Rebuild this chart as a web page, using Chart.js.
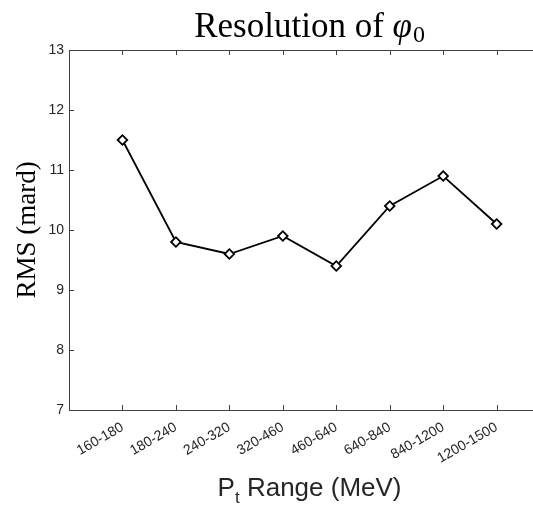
<!DOCTYPE html>
<html>
<head>
<meta charset="utf-8">
<script src="https://cdn.jsdelivr.net/npm/chart.js@4/dist/chart.umd.min.js"></script>
<style>
  html, body { margin: 0; padding: 0; background: #fff; overflow: hidden; }
</style>
</head>
<body>
<canvas id="rms-chart" width="533" height="507"></canvas>
<script>
const ptRanges = ["160-180", "180-240", "240-320", "320-460", "460-640", "640-840", "840-1200", "1200-1500"];
const rmsValues = [11.5, 9.8, 9.6, 9.9, 9.4, 10.4, 10.9, 10.1];
const yTicks = [7, 8, 9, 10, 11, 12, 13];

const axisColor = "#404040";
const textColor = "#262626";
// the original axes box runs on past the right edge of the picture (to x = 9)
const xMin = 0, xMaxVisible = 8.68, xMaxFull = 9;

const matlabAxes = {
  id: "matlabAxes",
  afterDraw(chart) {
    const { ctx, chartArea: a, scales } = chart;
    const x = scales.x, y = scales.y;
    ctx.save();
    ctx.strokeStyle = axisColor;
    ctx.lineWidth = 1;
    ctx.beginPath();
    ctx.moveTo(a.left + 0.5, a.top + 0.5);
    ctx.lineTo(a.right, a.top + 0.5);
    ctx.moveTo(a.left + 0.5, a.top);
    ctx.lineTo(a.left + 0.5, a.bottom + 0.5);
    ctx.lineTo(a.right, a.bottom + 0.5);
    ptRanges.forEach((_, i) => {
      const px = Math.round(x.getPixelForValue(i + 1)) + 0.5;
      ctx.moveTo(px, a.bottom);
      ctx.lineTo(px, a.bottom - 5);
      ctx.moveTo(px, a.top);
      ctx.lineTo(px, a.top + 5);
    });
    yTicks.forEach(v => {
      const py = Math.round(y.getPixelForValue(v)) + 0.5;
      ctx.moveTo(a.left, py);
      ctx.lineTo(a.left + 5, py);
    });
    ctx.stroke();

    // centre of the full (uncropped) axes box
    const cx = (a.left + x.getPixelForValue(xMaxFull)) / 2;
    ctx.fillStyle = "#000";
    ctx.textBaseline = "alphabetic";
    ctx.textAlign = "left";

    // title: Resolution of φ0
    const t1 = "Resolution of ";
    ctx.font = "35px 'Liberation Serif', serif";
    const w1 = ctx.measureText(t1).width;
    ctx.font = "italic 35px 'Liberation Serif', serif";
    const w2 = ctx.measureText("φ").width;
    ctx.font = "24px 'Liberation Serif', serif";
    const w3 = ctx.measureText("0").width;
    let sx = cx - (w1 + w2 + w3 + 1) / 2;
    const ty = 37;
    ctx.font = "35px 'Liberation Serif', serif";
    ctx.fillText(t1, sx, ty);
    ctx.font = "italic 35px 'Liberation Serif', serif";
    ctx.fillText("φ", sx + w1, ty);
    ctx.font = "24px 'Liberation Serif', serif";
    ctx.fillText("0", sx + w1 + w2 + 1, ty + 5);

    // x label: Pt Range (MeV)
    ctx.fillStyle = textColor;
    ctx.font = "26px 'Liberation Sans', Arial, sans-serif";
    const xa = "P", xb = " Range (MeV)";
    const wa = ctx.measureText(xa).width;
    const wb = ctx.measureText(xb).width;
    ctx.font = "17px 'Liberation Sans', Arial, sans-serif";
    const wt = ctx.measureText("t").width;
    sx = cx - (wa + wt + wb) / 2;
    const xy = 496;
    ctx.font = "26px 'Liberation Sans', Arial, sans-serif";
    ctx.fillText(xa, sx, xy);
    ctx.fillText(xb, sx + wa + wt, xy);
    ctx.font = "17px 'Liberation Sans', Arial, sans-serif";
    ctx.fillText("t", sx + wa, xy + 7);

    // y label
    ctx.save();
    ctx.translate(35, (a.top + a.bottom) / 2);
    ctx.rotate(-Math.PI / 2);
    ctx.textAlign = "center";
    ctx.fillStyle = "#000";
    ctx.font = "27px 'Liberation Serif', serif";
    ctx.fillText("RMS (mard)", 0, 0);
    ctx.restore();
    ctx.restore();
  }
};

new Chart(document.getElementById("rms-chart"), {
  type: "line",
  data: {
    datasets: [{
      data: rmsValues.map((v, i) => ({ x: i + 1, y: v })),
      borderColor: "#000",
      borderWidth: 1.8,
      pointStyle: "rectRot",
      pointRadius: 4.8,
      pointBorderWidth: 1.8,
      pointBackgroundColor: "#fff",
      pointBorderColor: "#000",
      tension: 0
    }]
  },
  options: {
    responsive: false,
    animation: false,
    layout: { autoPadding: false, padding: { top: 50, right: 0, left: 0, bottom: 0 } },
    plugins: { legend: { display: false }, tooltip: { enabled: false } },
    scales: {
      x: {
        type: "linear",
        min: xMin,
        max: xMaxVisible,
        afterBuildTicks: s => { s.ticks = ptRanges.map((_, i) => ({ value: i + 1 })); },
        afterFit: s => { s.height = 97; s.paddingLeft = 0; s.paddingRight = 0; },
        grid: { display: false, drawTicks: false },
        border: { display: false },
        ticks: {
          callback: v => ptRanges[v - 1] || "",
          minRotation: 30,
          maxRotation: 30,
          padding: 9,
          color: textColor,
          font: { family: "'Liberation Sans', Arial, sans-serif", size: 14 }
        }
      },
      y: {
        min: 7,
        max: 13,
        afterBuildTicks: s => { s.ticks = yTicks.map(v => ({ value: v })); },
        afterFit: s => { s.width = 69; s.paddingTop = 0; s.paddingBottom = 0; },
        grid: { display: false, drawTicks: false },
        border: { display: false },
        ticks: {
          padding: 5,
          color: textColor,
          font: { family: "'Liberation Sans', Arial, sans-serif", size: 14 }
        }
      }
    }
  },
  plugins: [matlabAxes]
});
</script>
</body>
</html>
